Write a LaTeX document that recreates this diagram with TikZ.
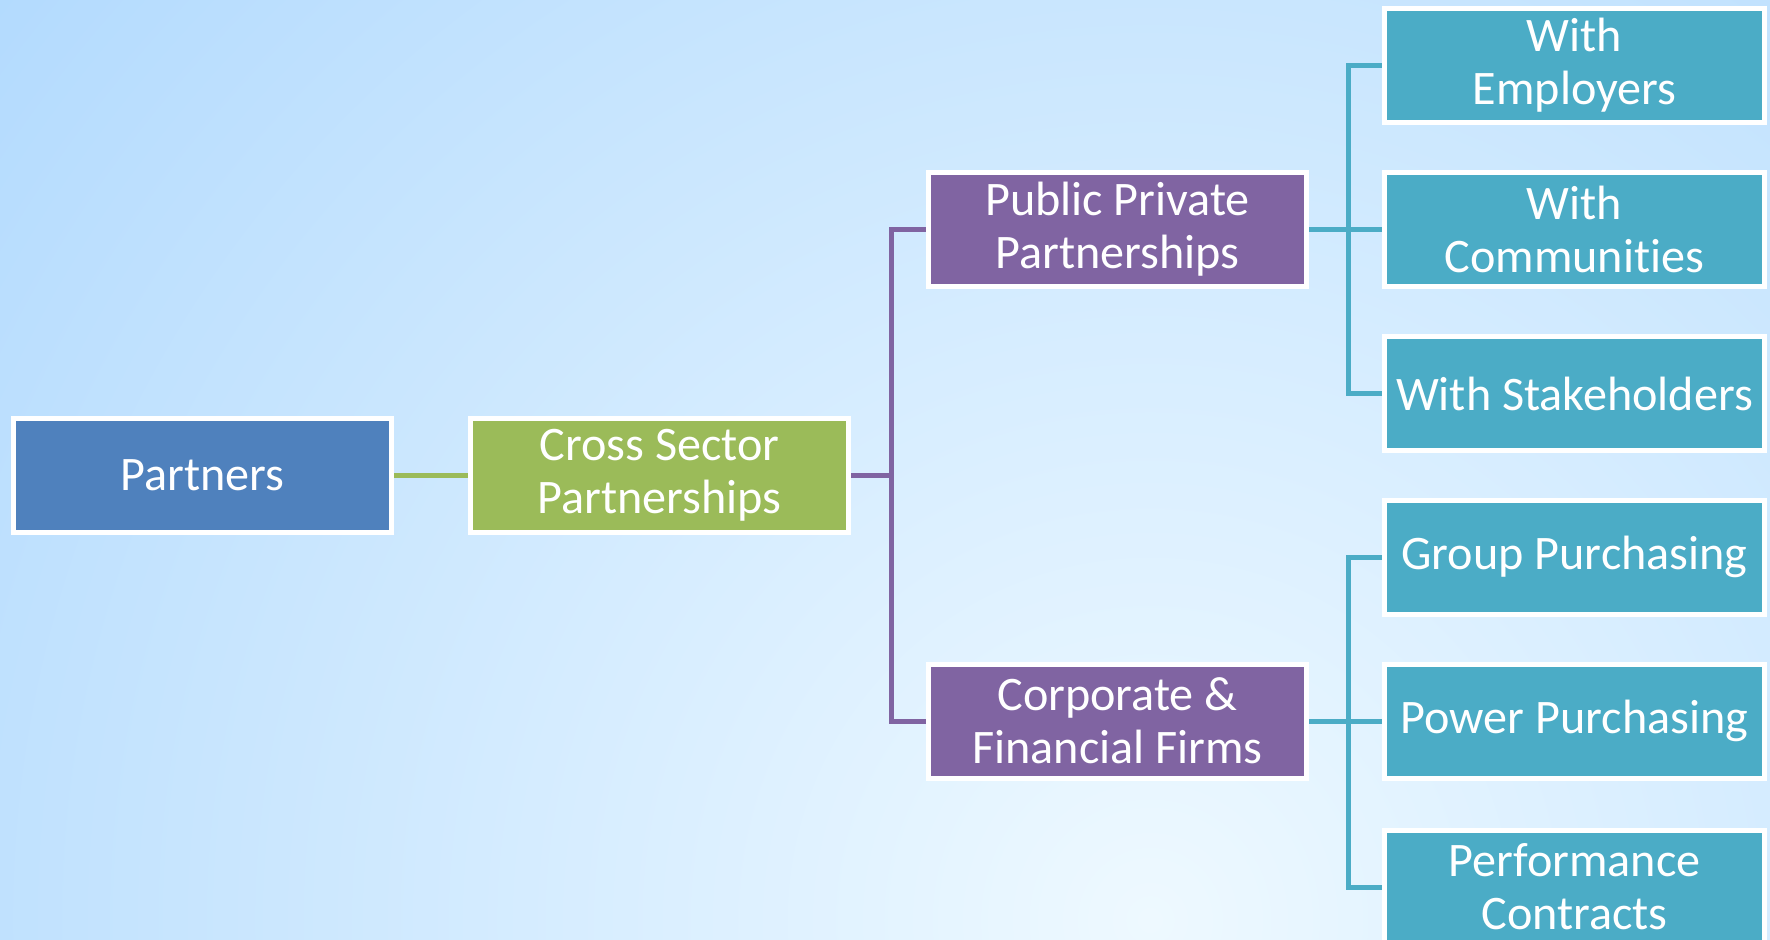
\documentclass[tikz,border=0pt]{standalone}
\usepackage{fontspec}
\setmainfont[Ligatures=NoCommon]{Carlito}
\usetikzlibrary{backgrounds}
\definecolor{SkyDark}{RGB}{178, 218, 254}
\definecolor{SkyLight}{RGB}{238, 249, 255}
\definecolor{PartnerBlue}{RGB}{79, 129, 189}
\definecolor{SectorGreen}{RGB}{155, 187, 89}
\definecolor{PairPurple}{RGB}{128, 100, 162}
\definecolor{LeafTeal}{RGB}{75, 172, 198}

\begin{document}
\begin{tikzpicture}[x=0.1mm,y=-0.1mm,
    box/.style={draw=white, line width=0.5mm, text=white, align=center,
                minimum width=37.8mm, minimum height=11.4mm, inner sep=1pt,
                font=\fontsize{13.7}{15}\selectfont},
    leafbox/.style={box, fill=LeafTeal, minimum width=38mm},
    link/.style={line width=0.5mm}]
          \useasboundingbox (0,0) rectangle (1770,939);
          \node[box, fill=PartnerBlue] (partners) at (202.5,475) {Partners};
          \node[box, fill=SectorGreen] (cross) at (659.5,475) {Cross Sector\\Partnerships};
          \node[box, fill=PairPurple] (ppp) at (1117.5,229.5) {Public Private\\Partnerships};
          \node[box, fill=PairPurple] (corp) at (1117.5,721) {Corporate \&\\Financial Firms};
          \node[leafbox] (employers) at (1574.5,65.5) {With\\Employers};
          \node[leafbox] (communities) at (1574.5,229.5) {With\\Communities};
          \node[leafbox] (stakeholders) at (1574.5,393.5) {With Stakeholders};
          \node[leafbox] (group) at (1574.5,557) {Group Purchasing};
          \node[leafbox] (power) at (1574.5,721) {Power Purchasing};
          \node[leafbox] (perf) at (1574.5,887) {Performance\\Contracts};
          \begin{scope}[on background layer]
            \clip (0,0) rectangle (1770,939);
            \shade[inner color=SkyLight, outer color=SkyDark] (1150,920) circle (1500);
            \draw[link, SectorGreen] (partners.east) -- (cross.west);
            \draw[link, PairPurple] (cross.east) -- ++(40,0) coordinate (forkA);
            \draw[link, PairPurple] (forkA) |- (ppp.west);
            \draw[link, PairPurple] (forkA) |- (corp.west);
            \draw[link, LeafTeal] (ppp.east) -- ++(39,0) coordinate (forkB);
            \draw[link, LeafTeal] (forkB) |- (employers.west);
            \draw[link, LeafTeal] (forkB) |- (stakeholders.west);
            \draw[link, LeafTeal] (forkB) -- (communities.west);
            \draw[link, LeafTeal] (corp.east) -- ++(39,0) coordinate (forkC);
            \draw[link, LeafTeal] (forkC) |- (group.west);
            \draw[link, LeafTeal] (forkC) |- (perf.west);
            \draw[link, LeafTeal] (forkC) -- (power.west);
          \end{scope}
        \end{tikzpicture}
\end{document}
